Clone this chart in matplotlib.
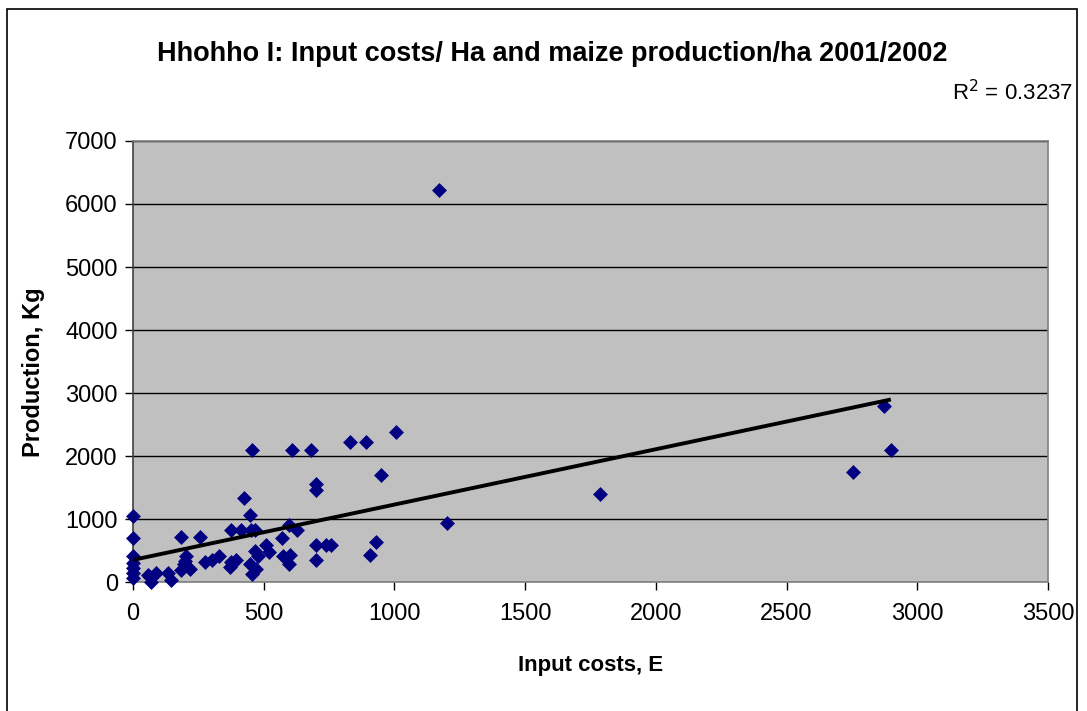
import numpy as np
import matplotlib.pyplot as plt
from matplotlib.patches import Rectangle

plt.rcParams['font.family'] = ['Liberation Sans', 'DejaVu Sans']

# koszty nakładów / ha (E)
input_costs = [
    0, 0, 0, 0, 0, 0, 0,
    63, 89, 67, 133, 146, 57,
    184, 204, 195, 184, 216, 200,
    258, 274, 302, 327,
    373, 373, 369, 395,
    414, 452, 468,
    423, 448, 455,
    446, 465, 478, 471, 454,
    507, 520, 571, 596, 627, 573, 599, 596,
    609, 679, 698, 698, 698, 739, 758, 698,
    829, 892, 907,
    931, 950, 1007,
    1170, 1200, 1786, 2755, 2873, 2899,
]
# produkcja kukurydzy / ha (kg)
production = [
    1050, 700, 420, 300, 230, 150, 70,
    80, 140, 0, 140, 25, 105,
    710, 420, 290, 190, 210, 340,
    710, 320, 350, 420,
    830, 320, 240, 355,
    830, 830, 830,
    1340, 1060, 2100,
    290, 500, 410, 210, 120,
    580, 476, 705, 910, 830, 408, 424, 280,
    2100, 2100, 1550, 1456, 583, 583, 583, 344,
    2220, 2220, 424,
    635, 1694, 2385,
    6230, 930, 1405, 1750, 2790, 2095,
]

x = np.array(input_costs, dtype=float)
y = np.array(production, dtype=float)

# linia trendu (regresja liniowa)
slope, intercept = np.polyfit(x, y, 1)
x_line = np.array([0, x.max()])
y_line = intercept + slope * x_line

fig = plt.figure(figsize=(10.87, 7.11), dpi=100)
ax = fig.add_axes([0.1224, 0.1814, 0.8417, 0.6203])
ax.set_facecolor('#C0C0C0')

ax.grid(axis='y', color='black', linewidth=1.0, zorder=1)
ax.set_axisbelow(True)

ax.scatter(x, y, marker='D', s=58, color='#000080', zorder=3, linewidths=0,
           clip_on=False)
ax.plot(x_line, y_line, color='black', linewidth=2.8, zorder=4,
        solid_capstyle='butt')

ax.set_xlim(0, 3500)
ax.set_ylim(0, 7000)
ax.set_xticks(np.arange(0, 3501, 500))
ax.set_yticks(np.arange(0, 7001, 1000))
ax.tick_params(axis='both', direction='out', length=6, width=1, colors='black',
               labelsize=17)
ax.tick_params(axis='y', pad=5)
ax.tick_params(axis='x', pad=9)

for side in ['left', 'bottom', 'right', 'top']:
    ax.spines[side].set_color('#808080')
    ax.spines[side].set_linewidth(1.2)
ax.spines['left'].set_color('#404040')

ax.set_xlabel('Input costs, E', fontsize=16, fontweight='bold', labelpad=22)
ax.set_ylabel('Production, Kg', fontsize=17, fontweight='bold')
ax.yaxis.set_label_coords(-0.096, 0.475)

fig.text(0.508, 0.924, 'Hhohho I: Input costs/ Ha and maize production/ha 2001/2002',
         ha='center', va='center', fontsize=19.5, fontweight='bold')
fig.text(0.987, 0.870, r'R$^2$ = 0.3237', ha='right', va='center', fontsize=16)

# ramka wykresu
fig.patches.append(Rectangle((7 / 1087, -0.05), 1070 / 1087, 1.05 - 9 / 711,
                             transform=fig.transFigure, fill=False,
                             edgecolor='black', linewidth=1.2))

fig.savefig('out.png', dpi=100)
